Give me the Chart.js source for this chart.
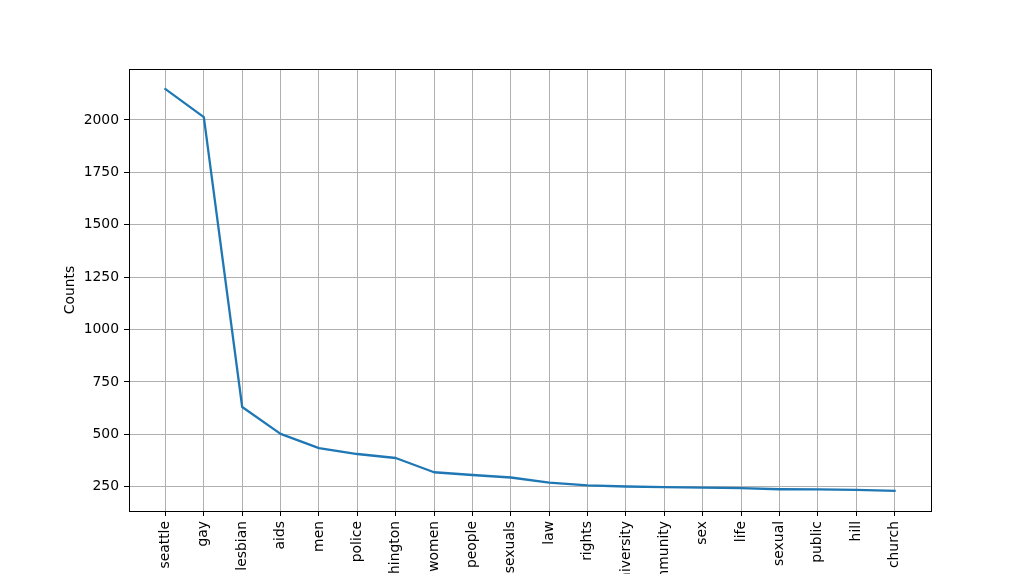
<!DOCTYPE html>
<html><head><meta charset="utf-8">
<script src="https://cdn.jsdelivr.net/npm/chart.js@4/dist/chart.umd.min.js"></script>
<style>html,body{margin:0;padding:0;background:#fff;overflow:hidden}canvas{display:block}</style>
</head><body>
<canvas id="c" width="1034" height="574"></canvas>
<script>
const categories = ['seattle','gay','lesbian','aids','men','police','washington','women','people','homosexuals','law','rights','university','community','sex','life','sexual','public','hill','church'];
const counts = [2147,2013,630,502,434,406,387,319,306,294,270,256,251,248,246,243,238,237,235,230];
const yTicks = [250,500,750,1000,1250,1500,1750,2000];
const yTitle = 'Counts';

const points = counts.map((v,i)=>({x:i,y:v}));
const lo = Math.min(...counts), hi = Math.max(...counts), pad = 0.05*(hi-lo);
const FONT = {family:'DejaVu Sans', size:13.9};

const frame = {
  id:'frame',
  afterDraw(chart){
    const a = chart.chartArea, c = chart.ctx;
    c.save();
    c.strokeStyle = '#000'; c.lineWidth = 1;
    c.strokeRect(Math.round(a.left)+0.5, Math.round(a.top)+0.5, Math.round(a.right-a.left), Math.round(a.bottom-a.top));
    c.restore();
  }
};

new Chart(document.getElementById('c'), {
  type:'line',
  data:{datasets:[{data:points, borderColor:'#1f77b4', borderWidth:2.3, borderCapStyle:'square', borderJoinStyle:'round', pointRadius:0, tension:0, fill:false}]},
  options:{
    responsive:false, animation:false, devicePixelRatio:1,
    layout:{padding:{top:69,right:103,left:62,bottom:0}},
    plugins:{legend:{display:false}, tooltip:{enabled:false}},
    scales:{
      x:{type:'linear', min:-0.95, max:categories.length-1+0.95,
        afterBuildTicks:s=>{s.ticks = categories.map((_,i)=>({value:i}));},
        afterFit:s=>{s.height = 63;},
        ticks:{autoSkip:false, maxRotation:90, minRotation:90, padding:5, color:'#000', font:FONT,
          callback:v=>categories[v]},
        grid:{color:'#b0b0b0', lineWidth:1, tickColor:'#000', tickLength:5, drawTicks:true},
        border:{display:false}
      },
      y:{type:'linear', min:lo-pad, max:hi+pad,
        afterBuildTicks:s=>{s.ticks = yTicks.map(v=>({value:v}));},
        afterFit:s=>{s.width = 67;},
        ticks:{padding:5, color:'#000', font:FONT, callback:v=>String(v)},
        grid:{color:'#b0b0b0', lineWidth:1, tickColor:'#000', tickLength:5, drawTicks:true},
        border:{display:false},
        title:{display:true, text:yTitle, color:'#000', font:FONT, padding:0}
      }
    }
  },
  plugins:[frame]
});
</script>
</body></html>
